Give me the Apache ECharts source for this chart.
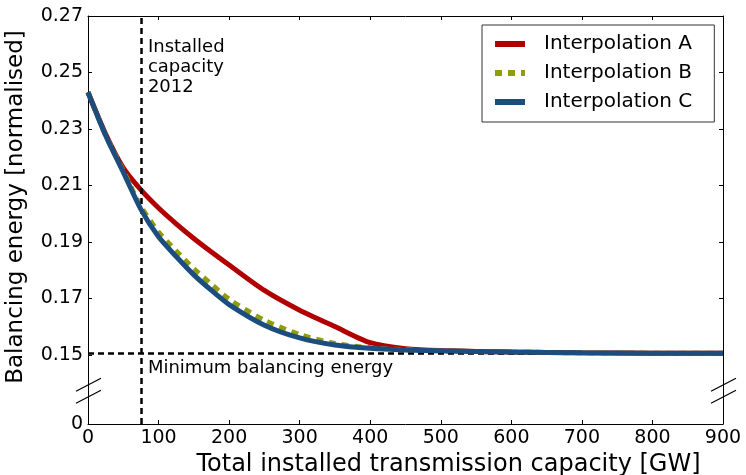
<!DOCTYPE html>
<html>
<head>
<meta charset="utf-8">
<script src="https://cdn.jsdelivr.net/npm/echarts@6/dist/echarts.min.js"></script>
<style>
  html, body { margin: 0; padding: 0; background: #fff; }
  #chart { width: 746px; height: 475px; }
</style>
</head>
<body>
<div id="chart"></div>
<script>
// data
const capacity = [0, 25, 50, 75, 100, 125, 150, 175, 200, 250, 300, 350, 400, 450, 500, 600, 700, 800, 900];
const interpA = [0.2430, 0.2282, 0.2162, 0.2084, 0.2020, 0.1964, 0.1912, 0.1864, 0.1818, 0.1728, 0.1658, 0.1600, 0.1543, 0.1522, 0.1515, 0.1510, 0.1507, 0.1506, 0.1506];
const interpB = [0.2430, 0.2277, 0.2152, 0.2025, 0.1935, 0.1868, 0.1805, 0.1750, 0.1697, 0.1622, 0.1572, 0.1540, 0.1525, 0.1518, 0.1514, 0.1510, 0.1507, 0.1506, 0.1506];
const interpC = [0.2430, 0.2277, 0.2147, 0.2015, 0.1918, 0.1848, 0.1783, 0.1728, 0.1678, 0.1605, 0.1560, 0.1535, 0.1523, 0.1517, 0.1514, 0.1510, 0.1507, 0.1506, 0.1506];
const seriesNames = ['Interpolation A', 'Interpolation B', 'Interpolation C'];
const yTicks = [0, 0.15, 0.17, 0.19, 0.21, 0.23, 0.25, 0.27];
const installed2012 = 75;
const minBalancing = 0.1506;

// broken y axis: 0 sits a fixed gap below 0.15, above that it is linear
const ZERO_POS = -2.45;
const toAxis = v => v < 0.1 ? ZERO_POS : (v - 0.15) / 0.01;
const tickLabel = t => t < -1 ? '0' : (0.15 + t * 0.01).toFixed(2);
const yTickPos = yTicks.map(toAxis);

const FONT = 'DejaVu Sans';
const chart = echarts.init(document.getElementById('chart'));

const pairs = arr => capacity.map((c, i) => [c, toAxis(arr[i])]);

const frameX = (pos, show) => ({
  type: 'value', position: pos, min: 0, max: 900, interval: 100,
  axisLine: { show: true, onZero: false, lineStyle: { color: '#000', width: 1 } },
  axisTick: { show: true, inside: true, length: 4, lineStyle: { color: '#000' } },
  axisLabel: { show: show, color: '#000', fontFamily: FONT, fontSize: 19, margin: 5 },
  splitLine: { show: false }
});
const frameY = (pos, show) => ({
  type: 'value', position: pos, min: ZERO_POS, max: toAxis(0.27),
  axisLine: { show: true, onZero: false, lineStyle: { color: '#000', width: 1 } },
  axisTick: { show: true, inside: true, length: 4, customValues: yTickPos, lineStyle: { color: '#000' } },
  axisLabel: {
    show: show, customValues: yTickPos, formatter: tickLabel,
    verticalAlignMinLabel: 'middle', verticalAlignMaxLabel: 'middle',
    color: '#000', fontFamily: FONT, fontSize: 19, margin: 5
  },
  splitLine: { show: false }
});

const xBottom = frameX('bottom', true);
xBottom.name = 'Total installed transmission capacity [GW]';
xBottom.nameLocation = 'middle';
xBottom.nameGap = 26;
xBottom.nameTextStyle = { color: '#000', fontFamily: FONT, fontSize: 24, padding: [0, 0, 0, 86] };

const yLeft = frameY('left', true);
yLeft.name = 'Balancing energy [normalised]';
yLeft.nameLocation = 'middle';
yLeft.nameGap = 60;
yLeft.nameTextStyle = { color: '#000', fontFamily: FONT, fontSize: 23, padding: [0, 0, 0, 26] };

const lineSeries = (name, values, color, z, dash) => ({
  name: name, type: 'line', data: pairs(values),
  smooth: 0.25,
  symbol: 'none', showSymbol: false, z: z,
  itemStyle: { color: color },
  lineStyle: { color: color, width: 5, type: dash || 'solid' }
});

const option = {
  animation: false,
  backgroundColor: '#fff',
  grid: { left: 88, right: 23, top: 16, bottom: 51, outerBoundsMode: 'none', containLabel: false },
  xAxis: [xBottom, frameX('top', false)],
  yAxis: [yLeft, frameY('right', false)],
  legend: {
    data: seriesNames,
    orient: 'vertical',
    left: 482, top: 25,
    itemWidth: 30, itemHeight: 6, itemGap: 9,
    padding: [9, 22, 10, 10],
    borderColor: '#333', borderWidth: 1,
    backgroundColor: '#fff',
    itemStyle: { opacity: 0 },
    lineStyle: { width: 6 },
    textStyle: { color: '#000', fontFamily: FONT, fontSize: 20, padding: [0, 0, 0, 14] }
  },
  series: [
    {
      name: 'guides', type: 'line', data: [], silent: true, z: 1,
      markLine: {
        symbol: 'none', silent: true, label: { show: false },
        lineStyle: { color: '#000', type: [6, 4], width: 2.5 },
        data: [{ xAxis: installed2012 }, { yAxis: toAxis(minBalancing) }]
      }
    },
    lineSeries(seriesNames[0], interpA, '#b00000', 3),
    lineSeries(seriesNames[1], interpB, '#8f9c0e', 4, [7, 6]),
    lineSeries(seriesNames[2], interpC, '#1b4e7e', 5)
  ]
};
chart.setOption(option);

// annotations and axis-break marks placed through the axis scales
const px = (x, v) => chart.convertToPixel({ xAxisIndex: 0, yAxisIndex: 0 }, [x, toAxis(v)]);
const topLeft = px(installed2012, 0.27);
const minPt = px(installed2012, minBalancing);
const breakY = chart.convertToPixel({ yAxisIndex: 0 }, -1.29);
const left = px(0, 0.27)[0];
const right = px(900, 0.27)[0];
const slash = (x, dy) => ({
  type: 'line', silent: true, z: 10,
  shape: { x1: x - 12, y1: breakY + dy + 6, x2: x + 13, y2: breakY + dy - 7 },
  style: { stroke: '#000', lineWidth: 1.2 }
});
chart.setOption({
  graphic: [
    {
      type: 'text', left: topLeft[0] + 7, top: topLeft[1] + 21, silent: true,
      style: { text: 'Installed\ncapacity\n2012', fill: '#000', font: '18px "' + FONT + '"', lineHeight: 20 }
    },
    {
      type: 'text', left: minPt[0] + 7, top: minPt[1] + 6, silent: true,
      style: { text: 'Minimum balancing energy', fill: '#000', font: '18px "' + FONT + '"' }
    },
    slash(left, -6), slash(left, 6), slash(right, -6), slash(right, 6)
  ]
});
</script>
</body>
</html>
